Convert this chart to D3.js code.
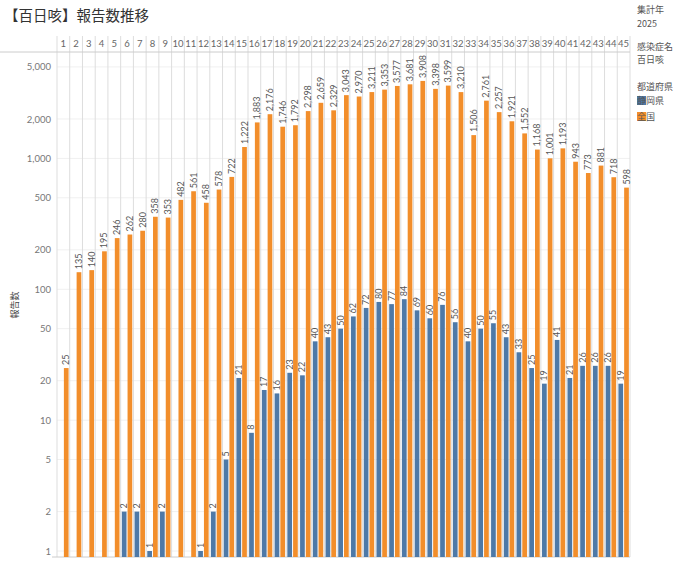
<!DOCTYPE html>
<html><head><meta charset="utf-8">
<script src="https://cdn.jsdelivr.net/npm/d3@7"></script>
<style>body{margin:0;background:#fff;font-family:"Noto Sans CJK JP","Noto Sans",sans-serif}</style>
</head><body><svg id="c" width="690" height="563"></svg>
<script>
const weeks = d3.range(1,46);
const shizuoka = [null,null,null,null,null,2,2,1,2,null,null,1,2,5,21,8,17,16,23,22,40,43,50,62,72,80,77,84,69,60,76,56,40,50,55,43,33,25,19,41,21,26,26,26,19];
const national = [25,135,140,195,246,262,280,358,353,482,561,458,578,722,1222,1883,2176,1746,1792,2298,2659,2329,3043,2970,3211,3353,3577,3681,3908,3398,3599,3210,1506,2761,2257,1921,1552,1168,1001,1193,943,773,881,718,598];
const yTicks = [1,2,5,10,20,50,100,200,500,1000,2000,5000];
const series = [{name:"静岡県",color:"#4e79a7",vals:shizuoka},{name:"全国",color:"#f28e2b",vals:national}];

const svg = d3.select("#c");
const x0=57, x1=630, plotTop=52, bot=557;
const x = d3.scaleBand().domain(weeks).range([x0,x1]);
const xs = d3.scaleBand().domain([0,1]).range([0,x.bandwidth()]).paddingInner(0.18).paddingOuter(0.2);
const y = d3.scaleLog().domain([0.9,6500]).range([bot,plotTop]);
const fmt = d3.format(",");

svg.append("text").attr("x",4).attr("y",21).attr("font-size",14.5).attr("fill","#333").text("【百日咳】報告数推移");

svg.append("g").selectAll("line").data(yTicks).join("line")
 .attr("x1",x0).attr("x2",x1).attr("y1",d=>y(d)).attr("y2",d=>y(d)).attr("stroke","#f0f0f0");
svg.append("g").selectAll("line").data(weeks).join("line")
 .attr("x1",d=>x(d)).attr("x2",d=>x(d)).attr("y1",36).attr("y2",bot).attr("stroke","#ddd");
svg.append("line").attr("x1",x1).attr("x2",x1).attr("y1",36).attr("y2",bot).attr("stroke","#ddd");
svg.append("line").attr("x1",0).attr("x2",x1).attr("y1",52).attr("y2",52).attr("stroke","#ccc");
svg.append("line").attr("x1",x0-5).attr("x2",x1).attr("y1",bot).attr("y2",bot).attr("stroke","#ccc");
svg.append("g").selectAll("text").data(weeks).join("text")
 .attr("x",d=>x(d)+x.bandwidth()/2).attr("y",47).attr("text-anchor","middle")
 .attr("font-size",9.5).attr("fill","#666").attr("font-family","Lato,sans-serif").text(d=>d);
const ya = svg.append("g").attr("transform",`translate(${x0},0)`)
 .call(d3.axisLeft(y).tickValues(yTicks).tickFormat(fmt).tickSize(0).tickPadding(6));
ya.select(".domain").remove();
ya.selectAll("text").attr("font-size",9.5).attr("fill","#777").attr("font-family","Lato,sans-serif");
svg.append("text").attr("transform","translate(18,305) rotate(-90)").attr("text-anchor","middle")
 .attr("font-size",9).attr("fill","#444").text("報告数");

series.forEach((s,si)=>{
  const data = weeks.map((w,i)=>({w,v:s.vals[i]})).filter(d=>d.v!=null);
  const g = svg.append("g");
  g.selectAll("rect").data(data).join("rect")
   .attr("x",d=>x(d.w)+xs(si)).attr("width",xs.bandwidth())
   .attr("y",d=>y(d.v)).attr("height",d=>bot-y(d.v)).attr("fill",s.color);
  g.selectAll("text").data(data).join("text")
   .attr("transform",d=>`translate(${x(d.w)+xs(si)+xs.bandwidth()/2+3},${y(d.v)-3}) rotate(-90)`)
   .attr("font-size",9).attr("fill","#555").attr("font-family","Lato,sans-serif").text(d=>fmt(d.v));
});

const lx=637;
const t=(yy,txt,c)=>svg.append("text").attr("x",lx).attr("y",yy).attr("font-size",9).attr("fill",c||"#555").text(txt);
t(13,"集計年"); t(27,"2025");
t(50,"感染症名"); t(63,"百日咳");
t(90,"都道府県");
series.forEach((s,i)=>{
  svg.append("rect").attr("x",lx).attr("y",96+i*16).attr("width",9).attr("height",9).attr("fill",s.color);
  t(104+i*16,s.name);
});
</script></body></html>
